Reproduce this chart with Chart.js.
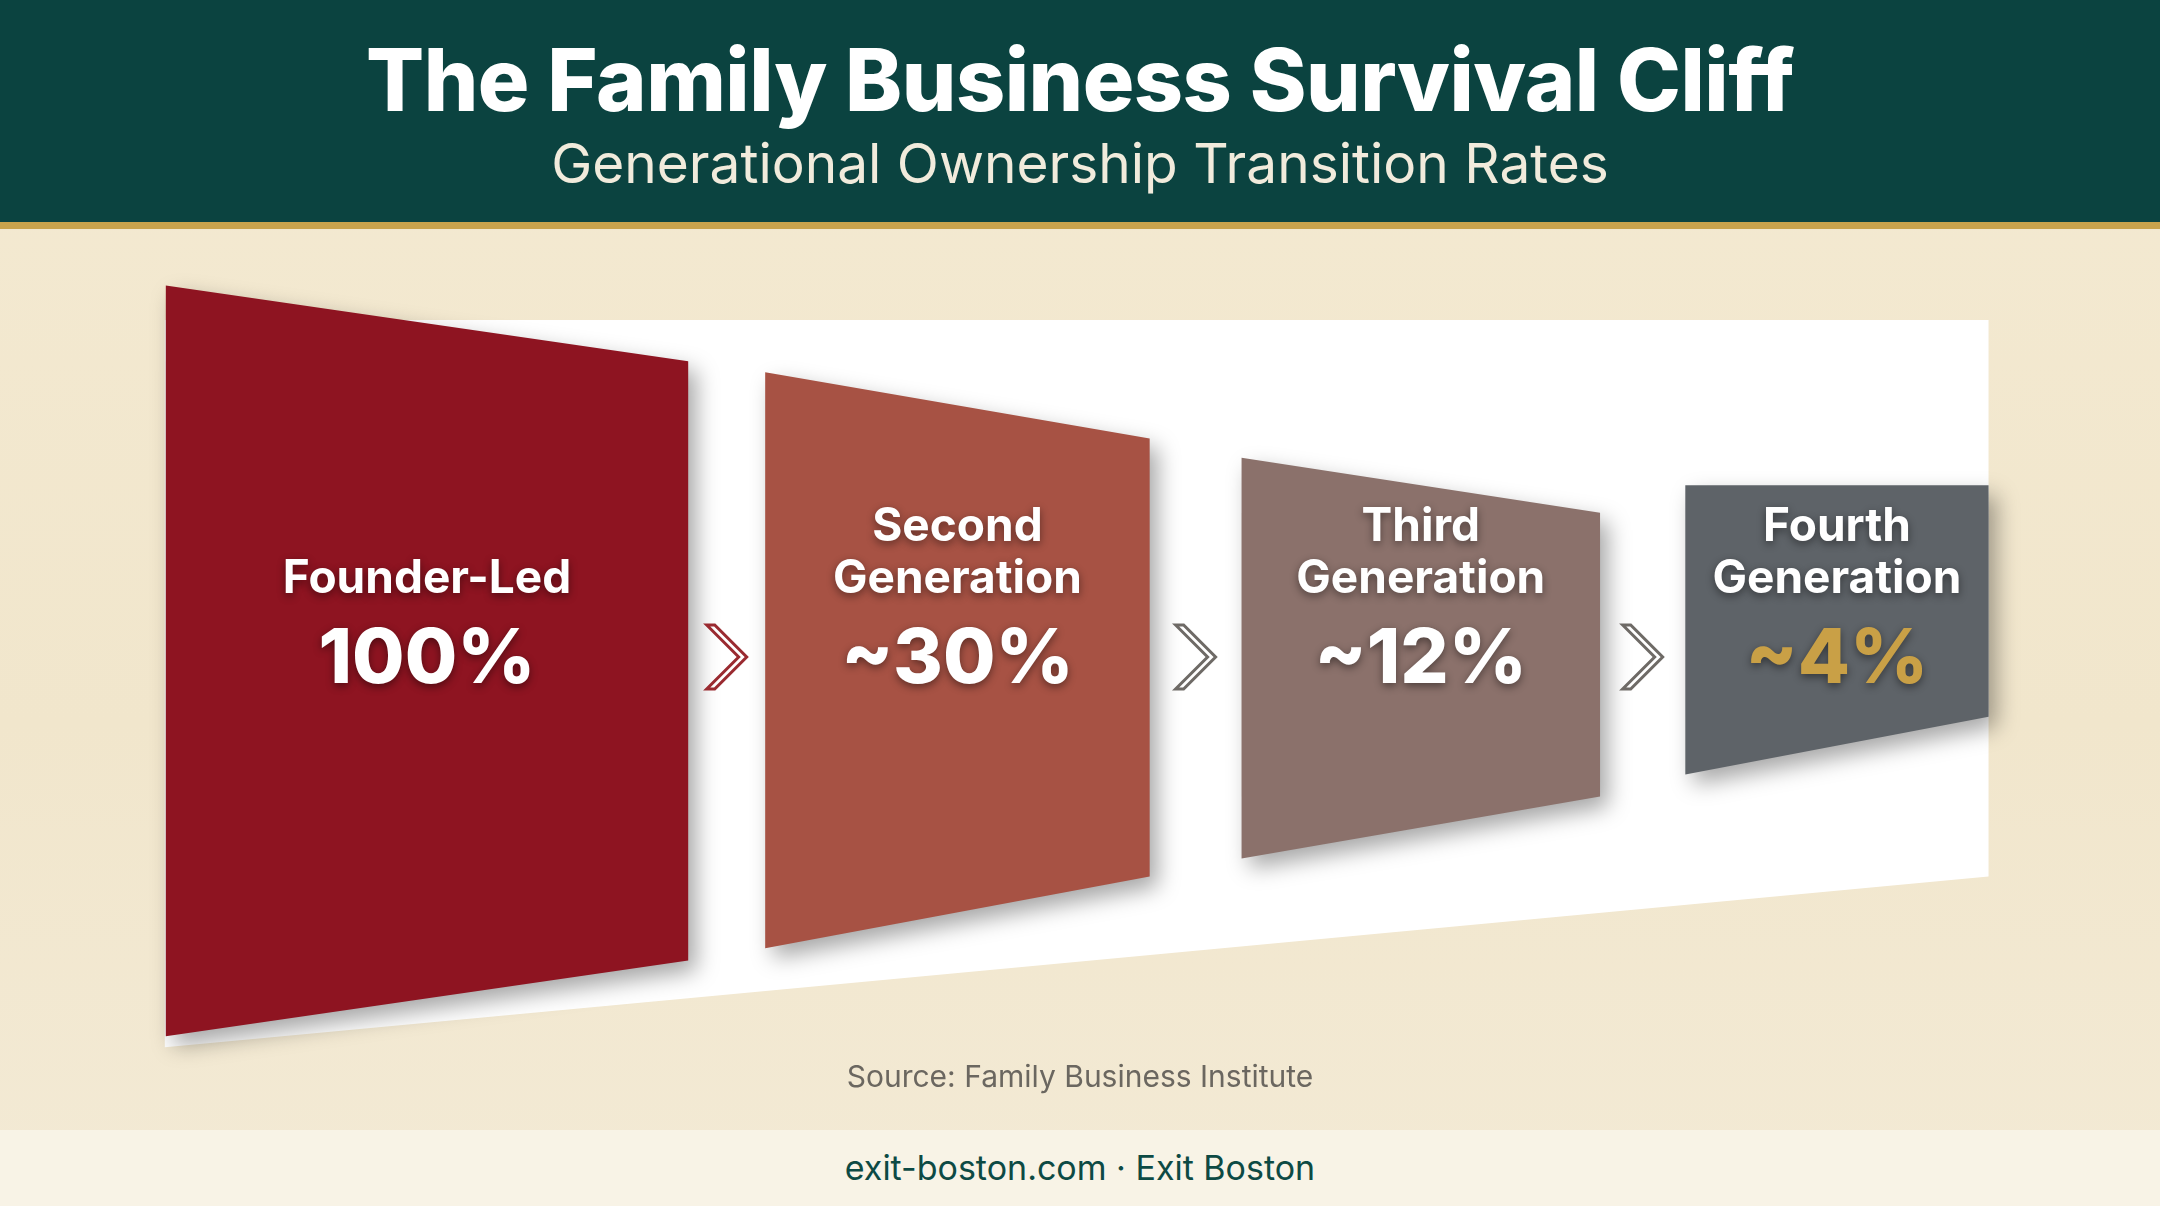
<!DOCTYPE html>
<html>
<head>
<meta charset="utf-8">
<script src="https://cdn.jsdelivr.net/npm/chart.js@4.4.0/dist/chart.umd.min.js"></script>
<style>
  body { margin: 0; width: 2160px; height: 1206px; overflow: hidden; font-family: Inter, "Noto Sans", sans-serif;
    background: linear-gradient(180deg, #f4ead2 0%, #f1e6cc 60%, #f3ead5 100%); position: relative; }
  #head { position: absolute; left: 0; top: 0; width: 2160px; height: 222px; background: #0b4340; border-bottom: 7px solid #c9a34c; text-align: center; }
  #head h1 { margin: 0; padding-top: 32px; color: #fff; font-size: 86px; font-weight: 800; letter-spacing: -0.5px; line-height: 96px; }
  #head h2 { margin: 0; color: #f1ebdc; font-size: 55px; font-weight: 400; line-height: 70px; }
  #wrap { position: absolute; left: 0; top: 229px; width: 2160px; height: 901px; }
  #source { position: absolute; top: 1058px; width: 2160px; text-align: center; font-size: 30px; color: #6b6760; }
  #foot { position: absolute; left: 0; top: 1130px; width: 2160px; height: 76px; background: #f8f3e6; text-align: center;
    line-height: 76px; font-size: 34px; color: #0d4a44; }
</style>
</head>
<body>
<div id="head"><h1>The Family Business Survival Cliff</h1><h2>Generational Ownership Transition Rates</h2></div>
<div id="wrap"><canvas id="funnel" width="2160" height="901"></canvas></div>
<div id="source">Source: Family Business Institute</div>
<div id="foot">exit-boston.com · Exit Boston</div>
<script>
// Stages of ownership
const stages = [["Founder-Led"], ["Second", "Generation"], ["Third", "Generation"], ["Fourth", "Generation"]];
const rates = ["100%", "~30%", "~12%", "~4%"];

// Stage positions along the funnel and block widths (x units)
const stagePos = [0, 1.123, 2.104, 2.985];
const stageWidth = [1.106, 0.814, 0.759, 0.642];

// Funnel edge heights (left edge and right edge of each block)
const leftTop = [54.6, 42, 29.6, 25.6];
const leftBottom = [-54.4, -41.6, -28.6, -16.4];
const rightTop = [43.6, 32.4, 21.6, 25.6];
const rightBottom = [-43.4, -31.2, -19.6, -8];

const stageColors = ["#8e1421", "#a75244", "#8b716b", "#5e6368"];
const rateColors = ["#ffffff", "#ffffff", "#ffffff", "#c9a046"];

// White band behind the funnel
const bandTop = 49.6, bandBottomLeft = -56, bandBottomRight = -31.2;

const funnelPlugin = {
    id: "funnel",
    beforeDatasetsDraw(chart) {
        const ctx = chart.ctx, x = chart.scales.x, y = chart.scales.y;
        const x0 = x.getPixelForValue(stagePos[0] - stageWidth[0] / 2) - 1;
        const x1 = x.getPixelForValue(stagePos[3] + stageWidth[3] / 2);
        ctx.save();
        ctx.fillStyle = "#ffffff";
        ctx.beginPath();
        ctx.moveTo(x0, y.getPixelForValue(bandTop));
        ctx.lineTo(x1, y.getPixelForValue(bandTop));
        ctx.lineTo(x1, y.getPixelForValue(bandBottomRight));
        ctx.lineTo(x0, y.getPixelForValue(bandBottomLeft));
        ctx.closePath();
        ctx.fill();
        ctx.restore();
    },
    afterDatasetsDraw(chart) {
        const ctx = chart.ctx, x = chart.scales.x, y = chart.scales.y;
        stages.forEach((lines, i) => {
            const cx0 = x.getPixelForValue(stagePos[i]);
            const l = x.getPixelForValue(stagePos[i] - stageWidth[i] / 2);
            const r = x.getPixelForValue(stagePos[i] + stageWidth[i] / 2);
            ctx.save();
            ctx.shadowColor = "rgba(0,0,0,0.35)";
            ctx.shadowBlur = 22;
            ctx.shadowOffsetX = 8;
            ctx.shadowOffsetY = 10;
            ctx.fillStyle = stageColors[i];
            ctx.beginPath();
            ctx.moveTo(l, y.getPixelForValue(leftTop[i]));
            ctx.lineTo(r, y.getPixelForValue(rightTop[i]));
            ctx.lineTo(r, y.getPixelForValue(rightBottom[i]));
            ctx.lineTo(l, y.getPixelForValue(leftBottom[i]));
            ctx.closePath();
            ctx.fill();
            ctx.restore();

            // labels
            ctx.save();
            ctx.textAlign = "center";
            ctx.textBaseline = "middle";
            ctx.shadowColor = "rgba(0,0,0,0.45)";
            ctx.shadowBlur = 8;
            ctx.shadowOffsetY = 3;
            ctx.fillStyle = "#ffffff";
            ctx.font = "bold 46px Inter, 'Noto Sans', sans-serif";
            const nameY = lines.length === 1 ? [350] : [298, 350];
            lines.forEach((t, k) => ctx.fillText(t, cx0, nameY[k]));
            ctx.fillStyle = rateColors[i];
            ctx.font = "800 76px Inter, 'Noto Sans', sans-serif";
            ctx.fillText(rates[i], cx0, 431);
            ctx.restore();

            // chevron to next stage
            if (i < stages.length - 1) {
                const nx = x.getPixelForValue(stagePos[i + 1] - stageWidth[i + 1] / 2);
                const cx = (r + nx) / 2 - 4, cy = 428;
                ctx.save();
                ctx.strokeStyle = i === 0 ? "#9a2a30" : "#6e6a66";
                ctx.lineWidth = 3;
                ctx.beginPath();
                ctx.moveTo(cx - 16, cy - 32);
                ctx.lineTo(cx + 16, cy);
                ctx.lineTo(cx - 16, cy + 32);
                ctx.lineTo(cx - 8, cy + 32);
                ctx.lineTo(cx + 24, cy);
                ctx.lineTo(cx - 8, cy - 32);
                ctx.closePath();
                ctx.stroke();
                ctx.restore();
            }
        });
    },
};

new Chart(document.getElementById("funnel"), {
    type: "scatter",
    data: {
        datasets: [{
            data: stagePos.map((p) => ({ x: p, y: 0 })),
            pointRadius: 0,
        }],
    },
    options: {
        responsive: false,
        animation: false,
        layout: { padding: 0 },
        scales: {
            x: { display: false, min: -0.904, max: 3.669 },
            y: { display: false, min: -68, max: 62.8 },
        },
        plugins: { legend: { display: false }, tooltip: { enabled: false } },
    },
    plugins: [funnelPlugin],
});
</script>
</body>
</html>
